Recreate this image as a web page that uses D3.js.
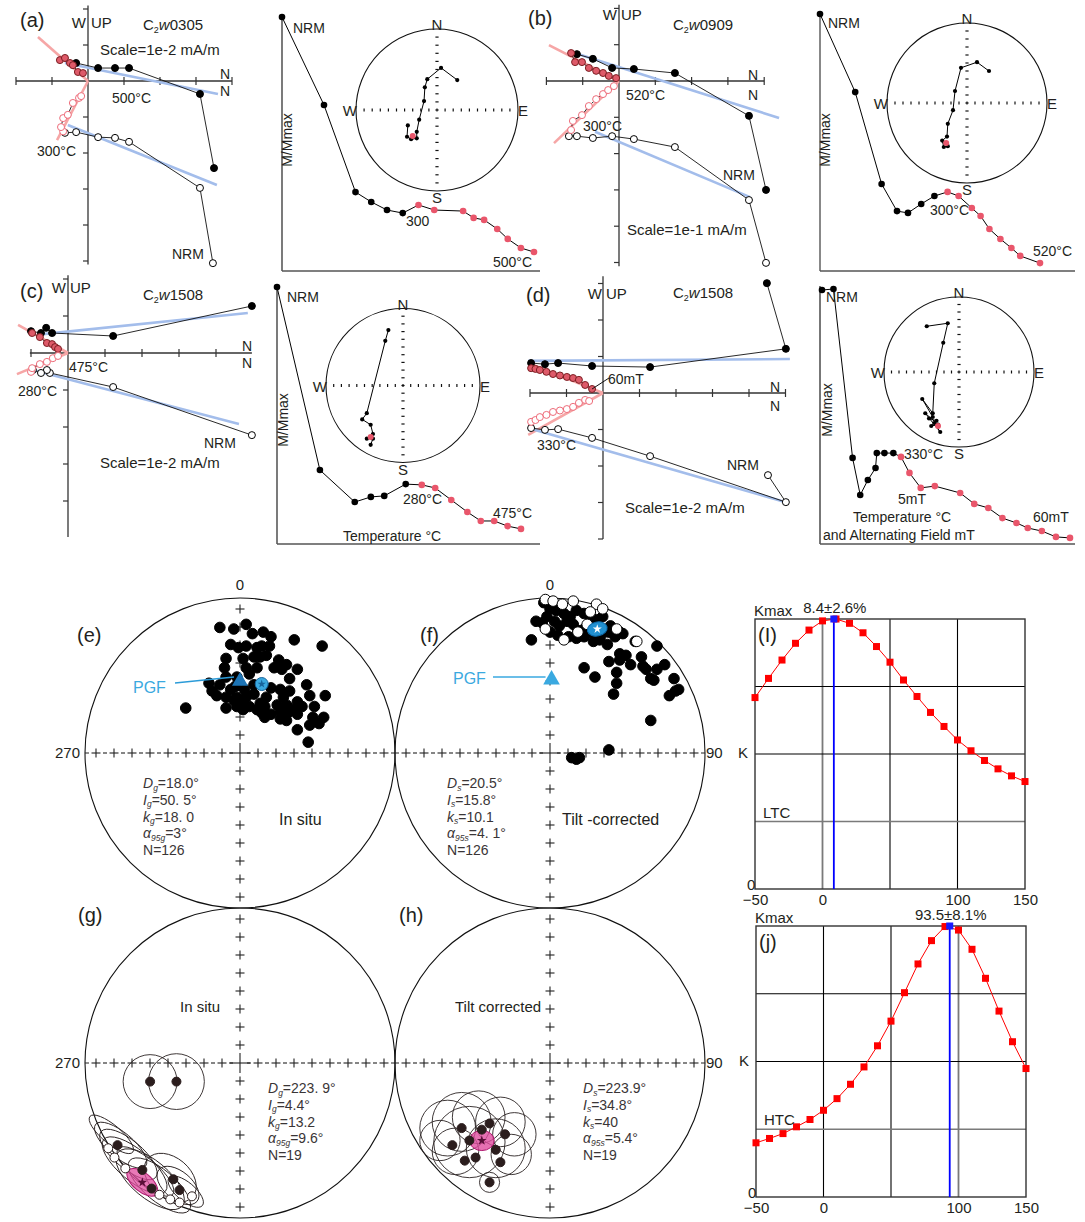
<!DOCTYPE html>
<html>
<head>
<meta charset="utf-8">
<script src="https://cdn.jsdelivr.net/npm/d3@7"></script>
<style>
  body { margin: 0; background: #fff; }
  text { font-family: "Liberation Sans", Arial, Helvetica, sans-serif; }
</style>
</head>
<body>
<svg id="fig" width="1085" height="1222"></svg>
<script>
// ---------- Zijderveld data, in scale ticks (x = N, y = W / UP) ----------
const zA_h = [[3.5,-2.42],[3.11,-0.36],[1.14,0.36],[0.75,0.36],[0.28,0.36],[-0.33,0.5]];
const zA_hRed = [[-0.78,0.58],[-0.64,0.64],[-0.5,0.5],[-0.42,0.44],[-0.28,0.25],[-0.14,0.22]];
const zA_v = [[3.47,-5.06],[3.11,-2.97],[1.14,-1.69],[0.75,-1.58],[0.28,-1.56],[-0.33,-1.42],[-0.64,-1.44]];
const zA_vRed = [[-0.69,-1.4],[-0.75,-1.28],[-0.69,-1.03],[-0.56,-0.94],[-0.42,-0.61],[-0.25,-0.47],[-0.19,-0.42]];
const zA_fitH = [[-0.64,0.5],[3.61,-0.36]], zA_fitV = [[-0.56,-1.22],[3.58,-2.89]];
const zA_pcaH = [[-1.39,1.22],[0,0]], zA_pcaV = [[0,0],[-0.86,-1.64]];

const zB_h = [[4.05,-3.0],[3.58,-0.96],[1.54,0.22],[0.41,0.33],[-0.19,0.36],[-0.72,0.61],[-1.16,0.74]];
const zB_hRed = [[-1.32,0.77],[-1.21,0.52],[-1.02,0.52],[-0.83,0.36],[-0.63,0.28],[-0.44,0.22],[-0.28,0.14],[-0.08,0.08]];
const zB_v = [[4.05,-5.01],[3.58,-3.28],[1.54,-1.82],[0.41,-1.6],[-0.19,-1.52],[-0.72,-1.57],[-1.16,-1.52],[-1.38,-1.52]];
const zB_vRed = [[-1.32,-1.35],[-1.27,-1.1],[-1.02,-0.94],[-0.83,-0.69],[-0.63,-0.5],[-0.44,-0.36],[-0.3,-0.25],[-0.14,-0.14]];
const zB_fitH = [[-1.07,0.72],[4.41,-1.02]], zB_fitV = [[-0.66,-1.4],[3.61,-3.2]];
const zB_pcaH = [[-1.93,0.99],[0,0]], zB_pcaV = [[0,0],[-1.79,-1.71]];

const zC_h = [[4.97,1.27],[1.22,0.46],[-0.43,0.54],[-0.59,0.68],[-0.73,0.54],[-1.0,0.59]];
const zC_hRed = [[-0.97,0.54],[-0.76,0.43],[-0.57,0.27],[-0.43,0.24],[-0.35,0.16],[-0.27,0.11]];
const zC_v = [[4.97,-2.22],[1.22,-0.92],[-0.49,-0.54],[-0.57,-0.46],[-0.73,-0.54],[-0.95,-0.46]];
const zC_vRed = [[-1.0,-0.51],[-0.97,-0.41],[-0.76,-0.3],[-0.57,-0.24],[-0.41,-0.14],[-0.27,-0.08]];
const zC_fitH = [[-0.68,0.51],[4.86,1.08]], zC_fitV = [[-0.95,-0.46],[4.62,-1.92]];
const zC_pcaH = [[-1.35,0.76],[0,0]], zC_pcaV = [[0,0],[-1.38,-0.57]];

const zD_h = [[4.49,3.01],[5.01,1.21],[1.29,0.71],[-0.3,0.74],[-1.23,0.82],[-1.59,0.79],[-1.97,0.82]];
const zD_hRed = [[-1.97,0.68],[-1.85,0.66],[-1.73,0.63],[-1.55,0.58],[-1.37,0.52],[-1.18,0.48],[-0.99,0.44],[-0.82,0.41],[-0.66,0.36],[-0.49,0.22],[-0.3,0.11]];
const zD_v = [[4.52,-2.25],[5.01,-2.99],[1.29,-1.73],[-0.3,-1.23],[-1.23,-0.99],[-1.59,-1.01],[-1.97,-0.96]];
const zD_vRed = [[-1.97,-0.79],[-1.85,-0.74],[-1.73,-0.66],[-1.55,-0.6],[-1.37,-0.52],[-1.18,-0.48],[-0.99,-0.44],[-0.82,-0.38],[-0.66,-0.27],[-0.49,-0.19],[-0.38,-0.22]];
const zD_fitH = [[-2.05,0.88],[5.12,0.93]], zD_fitV = [[-2.05,-0.96],[5.01,-2.99]];
const zD_pcaH = [[-2.05,0.82],[0,0]], zD_pcaV = [[0,0],[-2.05,-1.15]];

// ---------- demagnetisation curves (M/Mmax) ----------
const dmA_T = [20,100,160,190,220,250,280,310,365,385,405,430,450,475,500];
const dmA_M = [1,0.652,0.308,0.269,0.237,0.225,0.257,0.237,0.233,0.206,0.198,0.162,0.123,0.087,0.071];
const dmB_T = [20,100,160,195,220,250,280,310,335,365,385,405,430,455,475,520];
const dmB_M = [1,0.695,0.336,0.23,0.223,0.258,0.289,0.305,0.289,0.242,0.211,0.16,0.121,0.086,0.055,0.027];
const dmC_T = [20,100,165,195,220,260,290,315,345,375,400,425,450,475];
const dmC_M = [1,0.285,0.16,0.18,0.184,0.23,0.227,0.215,0.168,0.121,0.086,0.086,0.066,0.055];
const dmD_T = [20,65,140,170,200,230,235,265,300,330];
const dmD_AF = [3,7,12,21,26,31,36,41,45,50,55,60];
const dmD_M = [0.996,1,0.335,0.189,0.248,0.295,0.354,0.354,0.354,0.339,0.276,0.217,0.224,0.197,0.154,0.138,0.098,0.079,0.059,0.047,0.024,0.02];

// ---------- small equal-area nets (projected x, y on unit circle) ----------
const snA = [[0.25,0.37],[0.05,0.52],[-0.12,0.38],[-0.15,0.28],[-0.16,0.11],[-0.22,-0.12],[-0.25,-0.27],[-0.25,-0.35],[-0.32,-0.36],[-0.37,-0.33],[-0.36,-0.19]];
const snA_red = [-0.3,-0.32];
const snB = [[0.275,0.4],[0.125,0.51],[-0.075,0.44],[-0.15,0.15],[-0.175,-0.09],[-0.24,-0.26],[-0.25,-0.42],[-0.31,-0.47],[-0.29,-0.55],[-0.24,-0.54],[-0.27,-0.5]];
const snB_red = [-0.26,-0.5];
const snC = [[-0.19,0.72],[-0.23,0.58],[-0.47,-0.36],[-0.53,-0.44],[-0.42,-0.51],[-0.39,-0.63],[-0.47,-0.69],[-0.39,-0.69],[-0.42,-0.77]];
const snC_red = [-0.42,-0.67];
const snD = [[-0.43,0.61],[-0.15,0.65],[-0.21,0.39],[-0.33,-0.15],[-0.35,-0.55],[-0.49,-0.36],[-0.35,-0.6],[-0.4,-0.62],[-0.3,-0.65],[-0.37,-0.72],[-0.28,-0.7],[-0.45,-0.55],[-0.25,-0.8],[-0.33,-0.68]];
const snD_red = [-0.28,-0.72];

// ---------- site directions, in situ (e) and tilt-corrected (f) ----------
const eDirs = [[-0.13,0.81],[-0.04,0.8],[0.04,0.83],[0.08,0.77],[0.15,0.78],[0.2,0.75],[0.35,0.73],[0.53,0.69],
  [-0.06,0.7],[-0.01,0.68],[0.04,0.69],[0.11,0.68],[0.14,0.69],[0.19,0.69],[-0.09,0.61],[0.02,0.61],[0.09,0.62],
  [0.13,0.62],[0.17,0.63],[0.25,0.6],[0.3,0.57],[0.37,0.54],[-0.1,0.55],[0.04,0.55],[0.11,0.55],[0.22,0.55],
  [0.27,0.54],[0.32,0.48],[-0.09,0.49],[-0.02,0.49],[0.06,0.51],[-0.2,0.45],[-0.13,0.44],[-0.06,0.41],[0.2,0.42],
  [0.26,0.41],[0.32,0.4],[0.43,0.44],[0.55,0.37],[0.45,0.37],[-0.18,0.4],[-0.15,0.37],[-0.09,0.36],[-0.02,0.36],
  [0.04,0.36],[0.09,0.38],[0.17,0.36],[0.24,0.31],[0.3,0.31],[0.37,0.33],[0.4,0.3],[0.48,0.3],[-0.35,0.29],
  [-0.09,0.29],[-0.02,0.3],[0.02,0.32],[0.06,0.3],[0.14,0.26],[0.2,0.25],[0.26,0.27],[0.31,0.26],[0.37,0.25],
  [0.47,0.23],[0.54,0.23],[0.51,0.19],[0.45,0.18],[0.37,0.15],[0.44,0.07],[0.02,0.28],[-0.04,0.34],[0,0.33],
  [0.03,0.41],[-0.03,0.43],[0.09,0.44],[0.13,0.32],[0.16,0.3],[0.11,0.28],[0.16,0.23],[0.26,0.22],[0.3,0.21],
  [0.34,0.28],[0.28,0.36]];
const eMean = [0.14,0.445];
const ePGF = [0,0.47];
const fDirs = [[-0.04,0.97],[0,0.93],[0.04,0.92],[0.09,0.9],[0.13,0.88],[0.17,0.92],[0.22,0.9],[0.26,0.88],[0.3,0.86],
  [0.34,0.88],[0.39,0.82],[0.45,0.78],[-0.02,0.88],[0.03,0.85],[0.06,0.82],[0.11,0.85],[0.15,0.83],[0.18,0.79],
  [0.22,0.8],[0.26,0.78],[0.33,0.76],[0.38,0.78],[0.42,0.75],[0.47,0.77],[-0.09,0.85],[-0.05,0.84],[0,0.78],
  [0.05,0.76],[0.12,0.75],[0.17,0.74],[0.22,0.75],[0.28,0.72],[0.32,0.73],[0.37,0.7],[0.45,0.64],[0.49,0.63],
  [0.55,0.72],[0.69,0.69],[0.59,0.62],[0.45,0.6],[0.38,0.59],[0.52,0.57],[0.6,0.56],[0.74,0.57],[0.22,0.55],
  [0.29,0.49],[0.43,0.52],[0.62,0.54],[0.69,0.54],[0.43,0.45],[0.65,0.48],[0.67,0.47],[0.8,0.48],[0.41,0.38],
  [0.77,0.37],[0.81,0.4],[0.83,0.41],[0.65,0.21],[-0.12,0.73],[0.14,-0.03],[0.17,-0.04],[0.19,-0.03],[0.38,0.02]];
const fDirsUp = [[-0.03,0.99],[0.02,0.98],[0.08,0.96],[0.15,0.98],[0.3,0.96],[0.26,0.91],[0.34,0.93],[0.43,0.8],
  [-0.03,0.8],[0.09,0.73],[0.56,0.72],[0.18,0.78],[0.24,0.83]];
const fMean = [0.305,0.8];
const fPGF = [0.01,0.48];

// ---------- site means with a95 (g, h): x, y, rx, ry ----------
const gCircles = [[-0.58,-0.12,0.174,0.174],[-0.41,-0.12,0.18,0.18],[-0.83,-0.46,0.18,0.06],[-0.77,-0.53,0.21,0.08],
  [-0.72,-0.59,0.23,0.09],[-0.68,-0.66,0.26,0.1],[-0.61,-0.7,0.23,0.08],[-0.58,-0.75,0.27,0.12],[-0.52,-0.79,0.25,0.1],
  [-0.45,-0.74,0.19,0.13],[-0.4,-0.79,0.16,0.09],[-0.35,-0.83,0.14,0.06]];
const gSites = [[-0.58,-0.12],[-0.41,-0.12],[-0.79,-0.53],[-0.63,-0.69],[-0.57,-0.81],[-0.43,-0.75],[-0.39,-0.82]];
const gSitesUp = [[-0.85,-0.55],[-0.81,-0.61],[-0.74,-0.68],[-0.52,-0.85],[-0.45,-0.88],[-0.39,-0.9],[-0.31,-0.86]];
const gMean = [-0.63,-0.77,0.12,0.06];
const hCircles = [[-0.66,-0.42,0.18,0.18],[-0.57,-0.38,0.19,0.19],[-0.46,-0.35,0.17,0.17],[-0.32,-0.38,0.16,0.16],
  [-0.23,-0.46,0.14,0.14],[-0.52,-0.51,0.23,0.23],[-0.35,-0.55,0.19,0.19],[-0.61,-0.57,0.15,0.15],
  [-0.25,-0.59,0.13,0.13],[-0.39,-0.77,0.065,0.065],[-0.71,-0.5,0.13,0.13]];
const hSites = [[-0.57,-0.42],[-0.52,-0.5],[-0.39,-0.39],[-0.29,-0.46],[-0.48,-0.61],[-0.35,-0.56],[-0.32,-0.64],
  [-0.55,-0.63],[-0.63,-0.53],[-0.39,-0.77],[-0.44,-0.43]];
const hMean = [-0.44,-0.5,0.08,0.065];

// ---------- fold tests: K / Kmax versus % unfolding ----------
const unfold = [-50,-40,-30,-20,-10,0,10,20,30,40,50,60,70,80,90,100,110,120,130,140,150];
const kLTC = [0.709,0.78,0.848,0.91,0.959,0.993,1.0,0.984,0.949,0.898,0.84,0.774,0.713,0.654,0.602,0.552,0.512,0.476,0.445,0.419,0.398];
const kHTC = [0.2,0.216,0.234,0.259,0.286,0.32,0.363,0.416,0.48,0.558,0.649,0.754,0.86,0.946,0.998,0.985,0.914,0.807,0.686,0.573,0.474];
const unfoldTicks = [-50,0,100,150];

const INK = '#231f20';
const RED = '#e9566b';
const svg = d3.select('#fig');

function txt(x, y, s, size, anchor, color) {
  return svg.append('text').attr('x', x).attr('y', y).text(s)
    .attr('font-size', size || 14).attr('text-anchor', anchor || 'start').attr('fill', color || INK);
}

function specimen(x, y, num) {
  const t = svg.append('text').attr('x', x).attr('y', y).attr('font-size', 15).attr('fill', INK);
  t.append('tspan').text('C');
  t.append('tspan').text('2').attr('font-size', 9).attr('dy', 3);
  t.append('tspan').text('w').attr('font-style', 'italic').attr('dy', -3);
  t.append('tspan').text(num);
}

// orthogonal vector plot
function zijderveld(o, d) {
  const g = svg.append('g');
  const x = d3.scaleLinear().domain([0, 1]).range([o.ox, o.ox + o.tick]);
  const y = d3.scaleLinear().domain([0, 1]).range([o.oy, o.oy - o.tick]);
  g.append('line').attr('x1', x(o.xr[0])).attr('x2', x(o.xr[1])).attr('y1', y(0)).attr('y2', y(0))
    .attr('stroke', '#333').attr('stroke-width', 1.3);
  g.append('line').attr('x1', x(0)).attr('x2', x(0)).attr('y1', y(o.yr[1])).attr('y2', y(o.yr[0]))
    .attr('stroke', '#333').attr('stroke-width', 1.3);
  d3.range(Math.ceil(o.xr[0]), Math.floor(o.xr[1]) + 1).filter(v => v !== 0).forEach(v => {
    g.append('line').attr('x1', x(v)).attr('x2', x(v)).attr('y1', y(0) - 4).attr('y2', y(0) + 4)
      .attr('stroke', '#333').attr('stroke-width', 1.2);
  });
  d3.range(Math.ceil(o.yr[0]), Math.floor(o.yr[1]) + 1).filter(v => v !== 0).forEach(v => {
    g.append('line').attr('x1', x(0) - 5).attr('x2', x(0)).attr('y1', y(v)).attr('y2', y(v))
      .attr('stroke', '#333').attr('stroke-width', 1.2);
  });
  const seg = (p, c) => g.append('line').attr('x1', x(p[0][0])).attr('y1', y(p[0][1]))
    .attr('x2', x(p[1][0])).attr('y2', y(p[1][1])).attr('stroke', c).attr('stroke-width', 2.6);
  seg(d.pcaH, '#f6a6a6'); seg(d.pcaV, '#f6a6a6');
  seg(d.fitH, '#a3bdeb'); seg(d.fitV, '#a3bdeb');
  const line = d3.line().x(p => x(p[0])).y(p => y(p[1]));
  [d.h.concat(d.hRed), d.v.concat(d.vRed)].forEach(s => {
    g.append('path').attr('d', line(s)).attr('fill', 'none').attr('stroke', '#111').attr('stroke-width', 0.9);
  });
  const dot = (arr, fill, stroke) => g.append('g').selectAll('circle').data(arr).join('circle')
    .attr('cx', p => x(p[0])).attr('cy', p => y(p[1])).attr('r', 3.5)
    .attr('fill', fill).attr('stroke', stroke).attr('stroke-width', 1);
  dot(d.h, '#000', '#000');
  dot(d.v, '#fff', '#000');
  dot(d.hRed, '#de5a69', '#7a1e22');
  dot(d.vRed, '#fff', '#ee6b79');
  return { x, y };
}

// intensity decay curve
function demag(o, xs, ms, redFrom) {
  const g = svg.append('g');
  const y = d3.scaleLinear().domain([0, 1]).range([o.bottom, o.top]);
  g.append('line').attr('x1', o.left).attr('x2', o.left).attr('y1', o.top - 3).attr('y2', o.bottom + 1)
    .attr('stroke', o.axis).attr('stroke-width', o.axisW);
  g.append('line').attr('x1', o.left).attr('x2', o.right).attr('y1', o.bottom + 1).attr('y2', o.bottom + 1)
    .attr('stroke', '#555').attr('stroke-width', 1.5);
  const pts = xs.map((v, i) => [v, y(ms[i])]);
  g.append('path').attr('d', d3.line()(pts)).attr('fill', 'none').attr('stroke', '#000').attr('stroke-width', 1);
  g.selectAll('circle').data(pts).join('circle').attr('cx', p => p[0]).attr('cy', p => p[1]).attr('r', 3.3)
    .attr('fill', (p, i) => i >= redFrom ? RED : '#000');
  svg.append('text').attr('transform', `translate(${o.labX},${o.labY}) rotate(-90)`)
    .attr('text-anchor', 'middle').attr('font-size', 14).attr('fill', INK).text('M/Mmax');
}

// small stereonet of demag path
function smallNet(cx, cy, r, pts, red) {
  const g = svg.append('g');
  const x = d3.scaleLinear().domain([-1, 1]).range([cx - r, cx + r]);
  const y = d3.scaleLinear().domain([-1, 1]).range([cy + r, cy - r]);
  g.append('circle').attr('cx', cx).attr('cy', cy).attr('r', r).attr('fill', 'none').attr('stroke', '#111').attr('stroke-width', 1.1);
  d3.range(-9, 10).forEach(i => {
    const t = i * 0.1;
    g.append('line').attr('x1', x(t)).attr('x2', x(t)).attr('y1', cy - 1.5).attr('y2', cy + 1.5).attr('stroke', '#111').attr('stroke-width', 1.2);
    g.append('line').attr('x1', cx - 1.6).attr('x2', cx + 1.6).attr('y1', y(t)).attr('y2', y(t)).attr('stroke', '#111').attr('stroke-width', 1.2);
  });
  g.append('path').attr('d', d3.line().x(p => x(p[0])).y(p => y(p[1]))(pts)).attr('fill', 'none').attr('stroke', '#000').attr('stroke-width', 1);
  g.selectAll('.p').data(pts).join('circle').attr('cx', p => x(p[0])).attr('cy', p => y(p[1])).attr('r', 2.1).attr('fill', '#000');
  g.append('circle').attr('cx', x(red[0])).attr('cy', y(red[1])).attr('r', 3).attr('fill', RED);
  txt(cx, cy - r + 1, 'N', 15, 'middle');
  txt(cx, cy + r + 12, 'S', 15, 'middle');
  txt(cx - r + 1, cy + 6, 'W', 15, 'end');
  txt(cx + r, cy + 6, 'E', 15, 'start');
}

// large equal-area net
function bigNet(cx, cy, r) {
  const g = svg.append('g');
  g.append('circle').attr('cx', cx).attr('cy', cy).attr('r', r).attr('fill', 'none').attr('stroke', '#111').attr('stroke-width', 1.1);
  const plus = (px, py, s) => {
    g.append('line').attr('x1', px - s).attr('x2', px + s).attr('y1', py).attr('y2', py).attr('stroke', '#222').attr('stroke-width', 1.1);
    g.append('line').attr('x1', px).attr('x2', px).attr('y1', py - s).attr('y2', py + s).attr('stroke', '#222').attr('stroke-width', 1.1);
  };
  d3.range(1, 9).forEach(i => {
    const s = i * 18;
    plus(cx - s, cy, 4.5); plus(cx + s, cy, 4.5); plus(cx, cy - s, 4.5); plus(cx, cy + s, 4.5);
    [-1, 1].forEach(k => g.append('line').attr('x1', cx + k * (s - 11)).attr('x2', cx + k * (s - 7))
      .attr('y1', cy).attr('y2', cy).attr('stroke', '#222').attr('stroke-width', 1.1));
  });
  [-1, 1].forEach(k => g.append('line').attr('x1', cx + k * 151).attr('x2', cx + k * 155).attr('y1', cy).attr('y2', cy).attr('stroke', '#222'));
  plus(cx, cy, 10);
  return {
    g,
    x: d3.scaleLinear().domain([-1, 1]).range([cx - r, cx + r]),
    y: d3.scaleLinear().domain([-1, 1]).range([cy + r, cy - r]),
    r
  };
}

function stats(x, y, rows) {
  rows.forEach((row, i) => {
    const t = svg.append('text').attr('x', x).attr('y', y + i * 16.8).attr('font-size', 14).attr('fill', '#3a3536');
    t.append('tspan').text(row[0]).attr('font-style', row[1] ? 'italic' : 'normal');
    if (row[1]) t.append('tspan').text(row[1]).attr('font-size', 8.5).attr('font-style', 'italic').attr('dy', 2.5);
    t.append('tspan').text(row[2]).attr('dy', row[1] ? -2.5 : 0);
  });
}

function dots(net, arr, fill, stroke, r) {
  net.g.append('g').selectAll('circle').data(arr).join('circle')
    .attr('cx', p => net.x(p[0])).attr('cy', p => net.y(p[1])).attr('r', r)
    .attr('fill', fill).attr('stroke', stroke).attr('stroke-width', 1);
}

function ellipses(net, arr, rot) {
  net.g.append('g').selectAll('ellipse').data(arr).join('ellipse')
    .attr('transform', p => `translate(${net.x(p[0])},${net.y(p[1])}) rotate(${rot})`)
    .attr('rx', p => p[2] * net.r).attr('ry', p => p[3] * net.r)
    .attr('fill', 'none').attr('stroke', '#2a2222').attr('stroke-width', 0.9);
}

function star(net, p, size, color) {
  net.g.append('path').attr('d', d3.symbol(d3.symbolStar, size)())
    .attr('transform', `translate(${net.x(p[0])},${net.y(p[1])})`).attr('fill', color);
}

// fold test K curve
function foldTest(o, ks, best) {
  const g = svg.append('g');
  const x = d3.scaleLinear().domain([-50, 150]).range([o.left, o.right]);
  const y = d3.scaleLinear().domain([0, 1]).range([o.bottom, o.top]);
  [0, 50, 100].forEach(v => g.append('line').attr('x1', x(v)).attr('x2', x(v)).attr('y1', o.top).attr('y2', o.bottom)
    .attr('stroke', v === o.grayX ? '#7a7a7a' : '#000').attr('stroke-width', v === o.grayX ? 1.8 : 1.1));
  [0.25, 0.5, 0.75].forEach(v => g.append('line').attr('x1', o.left).attr('x2', o.right).attr('y1', y(v)).attr('y2', y(v))
    .attr('stroke', v === 0.25 ? '#7a7a7a' : '#000').attr('stroke-width', v === 0.25 ? 1.6 : 1.1));
  g.append('rect').attr('x', o.left).attr('y', o.top).attr('width', o.right - o.left).attr('height', o.bottom - o.top)
    .attr('fill', 'none').attr('stroke', '#333').attr('stroke-width', 1.4);
  g.append('line').attr('x1', x(best)).attr('x2', x(best)).attr('y1', o.top).attr('y2', o.bottom).attr('stroke', '#0000ff').attr('stroke-width', 1.8);
  const pts = unfold.map((u, i) => [x(u), y(ks[i])]);
  g.append('path').attr('d', d3.line()(pts)).attr('fill', 'none').attr('stroke', '#ff0000').attr('stroke-width', 1);
  g.selectAll('.sq').data(pts).join('rect').attr('x', p => p[0] - 3.5).attr('y', p => p[1] - 3.5)
    .attr('width', 7).attr('height', 7).attr('fill', '#ff0000');
  g.append('rect').attr('x', x(best) - 3.5).attr('y', o.top - 3.5).attr('width', 7).attr('height', 7).attr('fill', '#1a1aff');
  const ax = g.append('g').attr('transform', `translate(0,${o.bottom})`)
    .call(d3.axisBottom(x).tickValues(unfoldTicks).tickSize(0).tickPadding(5).tickFormat(d3.format('d')));
  ax.select('.domain').remove();
  ax.selectAll('text').attr('font-size', 15).attr('fill', INK).attr('font-family', '"Liberation Sans", Arial, sans-serif');
  txt(o.left - 1, o.top - 3, 'Kmax', 15);
  txt(o.left - 8, o.bottom + 1, '0', 15);
  txt(o.left - 17, y(0.5) + 4, 'K', 15);
  txt(o.left + 8, y(0.25) - 4, o.name, 15);
  txt(o.left + 3, o.top + 23, o.tag, 20);
  txt(x(best) + 1, o.top - 6, o.bestLabel, 15, 'middle');
}

// ---------------- panels (a)-(d) ----------------
txt(20, 27, '(a)', 20); txt(528, 25, '(b)', 20); txt(20, 298, '(c)', 20); txt(526, 302, '(d)', 20);

zijderveld({ ox: 88, oy: 81, tick: 36, xr: [-2, 4], yr: [-5.1, 2.1] },
  { h: zA_h, hRed: zA_hRed, v: zA_v, vRed: zA_vRed, fitH: zA_fitH, fitV: zA_fitV, pcaH: zA_pcaH, pcaV: zA_pcaV });
txt(86, 28, 'W', 15, 'end'); txt(91, 28, 'UP', 15);
specimen(143, 30, '0305');
txt(100, 55, 'Scale=1e-2 mA/m', 15);
txt(225, 79, 'N', 14, 'middle'); txt(225, 96, 'N', 14, 'middle');
txt(112, 103, '500°C', 14); txt(37, 156, '300°C', 14); txt(172, 259, 'NRM', 14);

zijderveld({ ox: 619, oy: 81, tick: 36.3, xr: [-2, 4], yr: [-5.1, 2.1] },
  { h: zB_h, hRed: zB_hRed, v: zB_v, vRed: zB_vRed, fitH: zB_fitH, fitV: zB_fitV, pcaH: zB_pcaH, pcaV: zB_pcaV });
txt(617, 20, 'W', 15, 'end'); txt(621, 20, 'UP', 15);
specimen(673, 30, '0909');
txt(753, 80, 'N', 14, 'middle'); txt(753, 100, 'N', 14, 'middle');
txt(626, 100, '520°C', 14); txt(583, 131, '300°C', 14); txt(723, 180, 'NRM', 14);
txt(627, 235, 'Scale=1e-1 mA/m', 15);

zijderveld({ ox: 68, oy: 353, tick: 37, xr: [-1.03, 4.97], yr: [-4.97, 2.1] },
  { h: zC_h, hRed: zC_hRed, v: zC_v, vRed: zC_vRed, fitH: zC_fitH, fitV: zC_fitV, pcaH: zC_pcaH, pcaV: zC_pcaV });
txt(66, 293, 'W', 15, 'end'); txt(70, 293, 'UP', 15);
specimen(143, 300, '1508');
txt(247, 351, 'N', 14, 'middle'); txt(247, 368, 'N', 14, 'middle');
txt(69, 372, '475°C', 14); txt(18, 396, '280°C', 14); txt(204, 448, 'NRM', 14);
txt(100, 468, 'Scale=1e-2 mA/m', 15);

const zd = zijderveld({ ox: 603, oy: 393, tick: 36.5, xr: [-2, 5], yr: [-4.0, 3.2] },
  { h: zD_h, hRed: zD_hRed, v: zD_v, vRed: zD_vRed, fitH: zD_fitH, fitV: zD_fitV, pcaH: zD_pcaH, pcaV: zD_pcaV });
txt(602, 299, 'W', 15, 'end'); txt(606, 299, 'UP', 15);
specimen(673, 298, '1508');
txt(775, 392, 'N', 14, 'middle'); txt(775, 411, 'N', 14, 'middle');
svg.append('line').attr('x1', zd.x(-0.3)).attr('y1', zd.y(0.11)).attr('x2', 609).attr('y2', 378).attr('stroke', '#111');
txt(608, 384, '60mT', 14); txt(537, 450, '330°C', 14); txt(727, 470, 'NRM', 14);
txt(625, 513, 'Scale=1e-2 mA/m', 15);

// decay curves
const tA = d3.scaleLinear().domain([20, 500]).range([282, 534]);
demag({ left: 282, right: 540, top: 17, bottom: 270, axis: '#222', axisW: 1.2, labX: 292, labY: 140 }, dmA_T.map(tA), dmA_M, 6);
txt(293, 33, 'NRM'); txt(406, 226, '300'); txt(493, 267, '500°C');
const tB = d3.scaleLinear().domain([20, 520]).range([820, 1040]);
demag({ left: 820, right: 1075, top: 14, bottom: 270, axis: '#888', axisW: 2, labX: 830, labY: 140 }, dmB_T.map(tB), dmB_M, 7);
txt(828, 28, 'NRM'); txt(930, 215, '300°C'); txt(1033, 256, '520°C');
const tC = d3.scaleLinear().domain([20, 475]).range([277, 521]);
demag({ left: 277, right: 540, top: 287, bottom: 543, axis: '#222', axisW: 1.2, labX: 288, labY: 420 }, dmC_T.map(tC), dmC_M, 6);
txt(287, 302, 'NRM'); txt(403, 504, '280°C'); txt(493, 518, '475°C'); txt(343, 541, 'Temperature °C');
const tD = d3.scaleLinear().domain([20, 330]).range([822, 901]);
const afD = d3.scaleLinear().domain([0, 60]).range([901, 1070]);
demag({ left: 820, right: 1075, top: 289, bottom: 543, axis: '#555', axisW: 1.6, labX: 832, labY: 410 },
  dmD_T.map(tD).concat(dmD_AF.map(afD)), dmD_M, 9);
txt(826, 302, 'NRM'); txt(904, 459, '330°C'); txt(898, 504, '5mT'); txt(1033, 522, '60mT');
txt(853, 522, 'Temperature  °C'); txt(823, 540, 'and Alternating Field  mT');

smallNet(437, 110, 81, snA, snA_red);
smallNet(967, 103, 80, snB, snB_red);
smallNet(403, 385.5, 77, snC, snC_red);
smallNet(959, 372, 75, snD, snD_red);

// ---------------- panels (e)-(h) ----------------
const netE = bigNet(240, 753, 155);
const netF = bigNet(550, 753, 155);
const netG = bigNet(240, 1063, 155);
const netH = bigNet(550, 1063, 155);

txt(240, 590, '0', 15, 'middle'); txt(550, 590, '0', 15, 'middle');
txt(80, 758, '270', 15, 'end'); txt(706, 758, '90', 15, 'start');
txt(80, 1068, '270', 15, 'end'); txt(706, 1068, '90', 15, 'start');
txt(77, 642, '(e)', 20); txt(420, 642, '(f)', 20); txt(78, 922, '(g)', 20); txt(399, 922, '(h)', 20);

dots(netE, eDirs, '#000', '#000', 5.3);
netE.g.append('path').attr('d', d3.symbol(d3.symbolTriangle, 110)())
  .attr('transform', `translate(${netE.x(ePGF[0])},${netE.y(ePGF[1]) + 1})`).attr('fill', '#1d74b5');
netE.g.append('circle').attr('cx', netE.x(eMean[0])).attr('cy', netE.y(eMean[1])).attr('r', 6.5)
  .attr('fill', '#3aa9e0').attr('stroke', '#17649c').attr('stroke-width', 1);
star(netE, eMean, 22, '#17649c');
svg.append('line').attr('x1', 175).attr('y1', 683).attr('x2', netE.x(ePGF[0]) - 6).attr('y2', 677).attr('stroke', '#2b9bd8').attr('stroke-width', 1.3);
txt(133, 693, 'PGF', 16, 'start', '#3aa9e0');
stats(143, 788, [['D', 'g', '=18.0°'], ['I', 'g', '=50. 5°'], ['k', 'g', '=18. 0'], ['α', '95g', '=3°'], ['N', '', '=126']]);
txt(279, 825, 'In situ', 16);

dots(netF, fDirs, '#000', '#000', 5.3);
dots(netF, fDirsUp, '#fff', '#000', 5.3);
netF.g.append('ellipse').attr('transform', `translate(${netF.x(fMean[0])},${netF.y(fMean[1])}) rotate(-12)`)
  .attr('rx', 10).attr('ry', 7).attr('fill', '#2190d0').attr('stroke', '#0e6aa8');
star(netF, fMean, 26, '#fff');
netF.g.append('path').attr('d', d3.symbol(d3.symbolTriangle, 120)())
  .attr('transform', `translate(${netF.x(fPGF[0])},${netF.y(fPGF[1]) + 1})`).attr('fill', '#3aa9e0');
svg.append('line').attr('x1', 493).attr('y1', 677).attr('x2', netF.x(fPGF[0]) - 6).attr('y2', 677).attr('stroke', '#3aa9e0').attr('stroke-width', 1.3);
txt(453, 684, 'PGF', 16, 'start', '#3aa9e0');
stats(447, 788, [['D', 's', '=20.5°'], ['I', 's', '=15.8°'], ['k', 's', '=10.1'], ['α', '95s', '=4. 1°'], ['N', '', '=126']]);
txt(562, 825, 'Tilt -corrected', 16);

ellipses(netG, gCircles.slice(0, 2), 0);
ellipses(netG, gCircles.slice(2), 40);
netG.g.append('ellipse').attr('transform', `translate(${netG.x(gMean[0])},${netG.y(gMean[1])}) rotate(40)`)
  .attr('rx', gMean[2] * 155).attr('ry', gMean[3] * 155).attr('fill', '#e04c9f').attr('fill-opacity', 0.75).attr('stroke', '#b01a70');
dots(netG, gSites, '#2b1d1d', '#2b1d1d', 4.5);
dots(netG, gSitesUp, '#fff', '#2b1d1d', 4.5);
star(netG, gMean, 30, '#5a0f38');
txt(180, 1012, 'In situ', 15);
stats(268, 1093, [['D', 'g', '=223. 9°'], ['I', 'g', '=4.4°'], ['k', 'g', '=13.2'], ['α', '95g', '=9.6°'], ['N', '', '=19']]);

ellipses(netH, hCircles, 0);
netH.g.append('ellipse').attr('transform', `translate(${netH.x(hMean[0])},${netH.y(hMean[1])})`)
  .attr('rx', hMean[2] * 155).attr('ry', hMean[3] * 155).attr('fill', '#e04c9f').attr('fill-opacity', 0.8).attr('stroke', '#b01a70');
dots(netH, hSites, '#2b1d1d', '#2b1d1d', 4.5);
star(netH, hMean, 30, '#5a0f38');
txt(455, 1012, 'Tilt corrected', 15);
stats(583, 1093, [['D', 's', '=223.9°'], ['I', 's', '=34.8°'], ['k', 's', '=40'], ['α', '95s', '=5.4°'], ['N', '', '=19']]);

// ---------------- fold tests (i), (j) ----------------
foldTest({ left: 755, right: 1025, top: 619, bottom: 889, grayX: 0, name: 'LTC', tag: '(I)', bestLabel: '8.4±2.6%' }, kLTC, 8.4);
foldTest({ left: 756, right: 1026, top: 926, bottom: 1197, grayX: 100, name: 'HTC', tag: '(j)', bestLabel: '93.5±8.1%' }, kHTC, 93.5);
</script>
</body>
</html>
